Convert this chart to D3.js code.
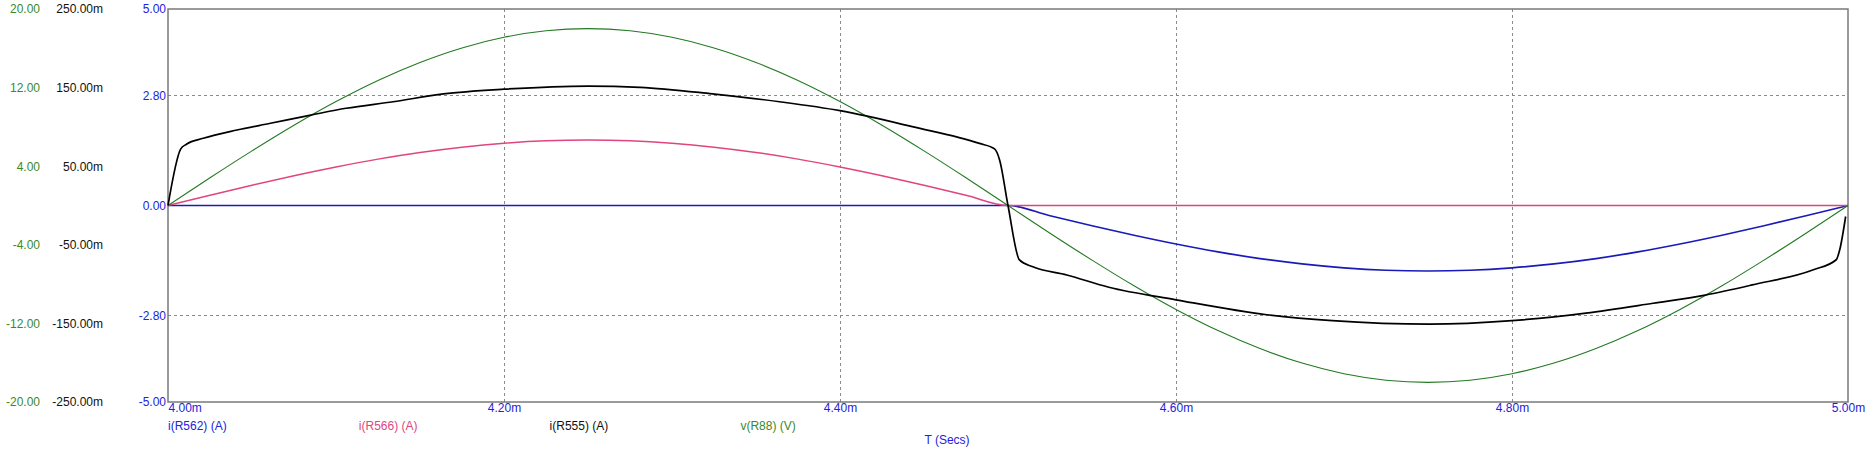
<!DOCTYPE html>
<html>
<head>
<meta charset="utf-8">
<script src="https://cdn.jsdelivr.net/npm/d3@7/dist/d3.min.js"></script>
<style>
  html, body { margin: 0; padding: 0; background: #ffffff; }
  svg { display: block; }
  text { font-family: "Liberation Sans", Arial, sans-serif; font-size: 12px; }
</style>
</head>
<body>
<svg id="chart" width="1875" height="461"></svg>
<script>
// ---------------- data ----------------
// time (ms) for the sinusoidal traces
const timeMs = [4.000, 4.025, 4.050, 4.075, 4.100, 4.125, 4.150, 4.175, 4.200, 4.225,
                4.250, 4.275, 4.300, 4.325, 4.350, 4.375, 4.400, 4.425, 4.450, 4.475,
                4.500, 4.525, 4.550, 4.575, 4.600, 4.625, 4.650, 4.675, 4.700, 4.725,
                4.750, 4.775, 4.800, 4.825, 4.850, 4.875, 4.900, 4.925, 4.950, 4.975, 5.000];
// i(R562) (A) - blue axis
const iR562 = [0, 0, 0, 0, 0, 0, 0, 0, 0, 0,
               0, 0, 0, 0, 0, 0, 0, 0, 0, 0,
               0, -0.26, -0.515, -0.757, -0.98, -1.18, -1.35, -1.485, -1.585, -1.647,
               -1.667, -1.647, -1.585, -1.485, -1.35, -1.18, -0.98, -0.757, -0.515, -0.26, 0];
// i(R566) (A) - blue axis
const iR566 = [0, 0.26, 0.515, 0.757, 0.98, 1.18, 1.35, 1.485, 1.585, 1.647,
               1.667, 1.647, 1.585, 1.485, 1.35, 1.18, 0.98, 0.757, 0.515, 0.26,
               0, 0, 0, 0, 0, 0, 0, 0, 0, 0,
               0, 0, 0, 0, 0, 0, 0, 0, 0, 0, 0];
// v(R88) (V) - green axis
const vR88 = [0, 2.82, 5.56, 8.17, 10.58, 12.73, 14.56, 16.04, 17.12, 17.78,
              18.0, 17.78, 17.12, 16.04, 14.56, 12.73, 10.58, 8.17, 5.56, 2.82,
              0, -2.82, -5.56, -8.17, -10.58, -12.73, -14.56, -16.04, -17.12, -17.78,
              -18.0, -17.78, -17.12, -16.04, -14.56, -12.73, -10.58, -8.17, -5.56, -2.82, 0];
// i(R555) (A) in mA - black axis, own time base
const tR555 = [4.000, 4.0076, 4.011, 4.021, 4.041, 4.061, 4.085, 4.106, 4.134, 4.164,
               4.200, 4.250, 4.281, 4.324, 4.364, 4.400, 4.443, 4.483, 4.492, 4.495,
               4.500, 4.5068, 4.5148, 4.535, 4.560, 4.600, 4.654, 4.693, 4.751, 4.800,
               4.844, 4.884, 4.915, 4.943, 4.979, 4.993, 4.995, 4.9986];
const iR555 = [0, 72, 78, 85.5, 96, 104.6, 115, 123.7, 132, 142,
               148, 152, 150.4, 142, 132, 120.6, 100.3, 79, 72, 58,
               0, -69.3, -78, -88.4, -104, -120, -139, -146.5, -151, -146.5,
               -137, -124.4, -114, -101, -82, -69, -57, -14];

// tick values / labels
const xTicks = [4.0, 4.2, 4.4, 4.6, 4.8, 5.0];
const blueTicks = [5, 2.8, 0, -2.8, -5];
const greenTicks = [20, 12, 4, -4, -12, -20];
const blackTicks = [250, 150, 50, -50, -150, -250];
const legendLabels = ["i(R562) (A)", "i(R566) (A)", "i(R555) (A)", "v(R88) (V)"];
const xTitle = "T (Secs)";

// ---------------- layout ----------------
const L = 168, R = 1848, T = 9, B = 402;
const svg = d3.select("#chart");

const x = d3.scaleLinear().domain([4.0, 5.0]).range([L, R]);
const yBlue = d3.scaleLinear().domain([-5, 5]).range([B, T]);
const yGreen = d3.scaleLinear().domain([-20, 20]).range([B, T]);
const yBlack = d3.scaleLinear().domain([-250, 250]).range([B, T]);

const COL = { blue: "#1a1ab8", pink: "#e0457f", black: "#000000", green: "#227a22",
              blueText: "#2222dd", greenText: "#3a8a2a", frame: "#7a7a7a", grid: "#8a8a8a" };

// grid
const grid = svg.append("g");
grid.selectAll("line.h").data([2.8, -2.8]).join("line")
  .attr("x1", L).attr("x2", R)
  .attr("y1", d => yBlue(d)).attr("y2", d => yBlue(d))
  .attr("stroke", COL.grid).attr("stroke-width", 1).attr("stroke-dasharray", "3,3")
  .attr("shape-rendering", "crispEdges");
grid.selectAll("line.v").data(xTicks.slice(1, -1)).join("line")
  .attr("x1", d => x(d)).attr("x2", d => x(d))
  .attr("y1", T).attr("y2", B)
  .attr("stroke", COL.grid).attr("stroke-width", 1).attr("stroke-dasharray", "3,3")
  .attr("shape-rendering", "crispEdges");

// frame
svg.append("rect").attr("x", L).attr("y", T).attr("width", R - L).attr("height", B - T)
  .attr("fill", "none").attr("stroke", COL.frame).attr("stroke-width", 1.5);

// left axes (labels only)
function leftAxis(scale, ticks, fmt, xpos, color) {
  const g = svg.append("g").attr("transform", `translate(${xpos},0)`)
    .call(d3.axisLeft(scale).tickValues(ticks).tickFormat(fmt).tickSize(0).tickPadding(0));
  g.select(".domain").remove();
  g.selectAll("text").attr("fill", color).style("font-size", "12px")
    .style("font-family", "'Liberation Sans', Arial, sans-serif");
  return g;
}
leftAxis(yBlue, blueTicks, d => d.toFixed(2), 166, COL.blueText);
leftAxis(yGreen, greenTicks, d => d.toFixed(2), 40, COL.greenText);
leftAxis(yBlack, blackTicks, d => d.toFixed(2) + "m", 103, "#111111");

// bottom axis
const gx = svg.append("g").attr("transform", `translate(0,${B})`)
  .call(d3.axisBottom(x).tickValues(xTicks).tickFormat(d => d.toFixed(2) + "m").tickSize(0).tickPadding(1));
gx.select(".domain").remove();
gx.selectAll("text").attr("fill", COL.blueText).style("font-size", "12px")
  .style("font-family", "'Liberation Sans', Arial, sans-serif")
  .attr("text-anchor", (d, i) => i === 0 ? "start" : "middle");

// series
const line = (ys) => d3.line().x(d => x(d[0])).y(d => ys(d[1])).curve(d3.curveMonotoneX);
const zip = (a, b) => a.map((v, i) => [v, b[i]]);

svg.append("path").datum(zip(timeMs, iR562)).attr("d", line(yBlue))
  .attr("fill", "none").attr("stroke", COL.blue).attr("stroke-width", 1.7);
svg.append("path").datum(zip(timeMs, iR566)).attr("d", line(yBlue))
  .attr("fill", "none").attr("stroke", COL.pink).attr("stroke-width", 1.5);
svg.append("path").datum(zip(timeMs, vR88)).attr("d", line(yGreen))
  .attr("fill", "none").attr("stroke", COL.green).attr("stroke-width", 1.1);
svg.append("path").datum(zip(tR555, iR555)).attr("d", line(yBlack))
  .attr("fill", "none").attr("stroke", COL.black).attr("stroke-width", 1.7);

// legend
const legColors = [COL.blueText, COL.pink, "#111111", COL.greenText];
const legX = d3.scaleLinear().domain([0, 1]).range([L, L + 190.8]);
svg.append("g").selectAll("text").data(legendLabels).join("text")
  .attr("x", (d, i) => legX(i)).attr("y", 430)
  .attr("fill", (d, i) => legColors[i]).text(d => d);

svg.append("text").attr("x", 947).attr("y", 444).attr("text-anchor", "middle")
  .attr("fill", COL.blueText).text(xTitle);
</script>
</body>
</html>
